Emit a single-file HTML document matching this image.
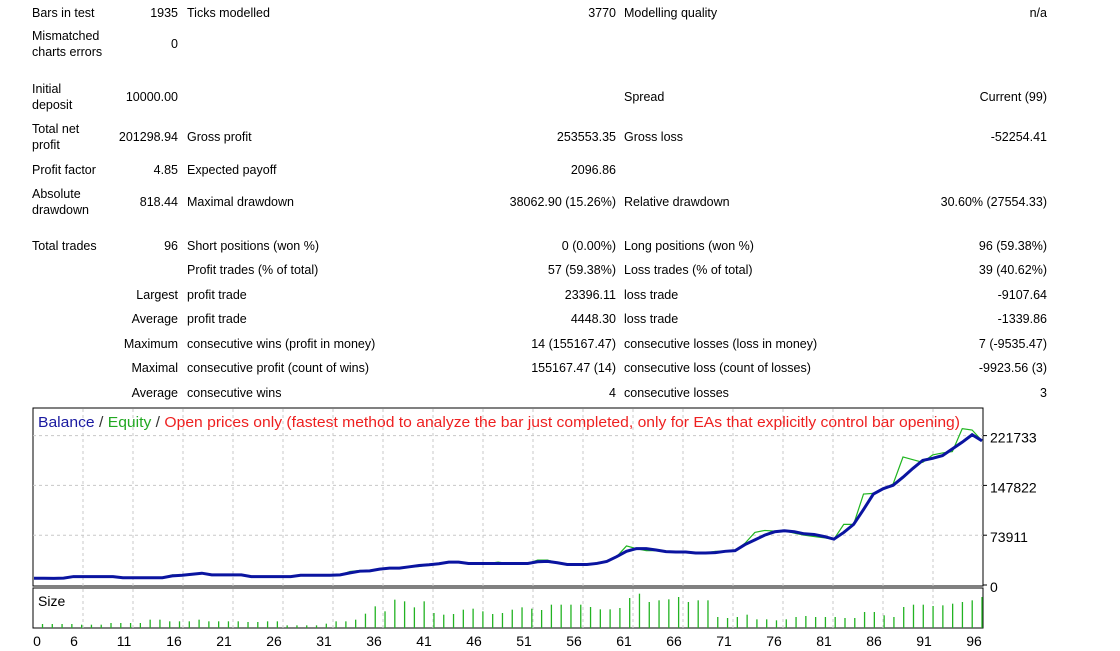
<!DOCTYPE html>
<html><head><meta charset="utf-8">
<style>
body{margin:0;width:1120px;height:651px;background:#fff;font-family:"Liberation Sans","DejaVu Sans",sans-serif;font-size:12.5px;color:#000;position:relative;overflow:hidden}
.t{position:absolute;line-height:16px;white-space:nowrap}
.r{text-align:right}
</style></head><body>
<div>
<div class="t" style="left:32px;top:5px">Bars in test</div>
<div class="t r" style="right:942px;top:5px">1935</div>
<div class="t" style="left:187px;top:5px">Ticks modelled</div>
<div class="t r" style="right:504px;top:5px">3770</div>
<div class="t" style="left:624px;top:5px">Modelling quality</div>
<div class="t r" style="right:73px;top:5px">n/a</div>

<div class="t" style="left:32px;top:28px">Mismatched<br>charts errors</div>
<div class="t r" style="right:942px;top:36px">0</div>

<div class="t" style="left:32px;top:81px">Initial<br>deposit</div>
<div class="t r" style="right:942px;top:89px">10000.00</div>
<div class="t" style="left:624px;top:89px">Spread</div>
<div class="t r" style="right:73px;top:89px">Current (99)</div>

<div class="t" style="left:32px;top:121px">Total net<br>profit</div>
<div class="t r" style="right:942px;top:129px">201298.94</div>
<div class="t" style="left:187px;top:129px">Gross profit</div>
<div class="t r" style="right:504px;top:129px">253553.35</div>
<div class="t" style="left:624px;top:129px">Gross loss</div>
<div class="t r" style="right:73px;top:129px">-52254.41</div>

<div class="t" style="left:32px;top:162px">Profit factor</div>
<div class="t r" style="right:942px;top:162px">4.85</div>
<div class="t" style="left:187px;top:162px">Expected payoff</div>
<div class="t r" style="right:504px;top:162px">2096.86</div>

<div class="t" style="left:32px;top:186px">Absolute<br>drawdown</div>
<div class="t r" style="right:942px;top:194px">818.44</div>
<div class="t" style="left:187px;top:194px">Maximal drawdown</div>
<div class="t r" style="right:504px;top:194px">38062.90 (15.26%)</div>
<div class="t" style="left:624px;top:194px">Relative drawdown</div>
<div class="t r" style="right:73px;top:194px">30.60% (27554.33)</div>

<div class="t" style="left:32px;top:238px">Total trades</div>
<div class="t r" style="right:942px;top:238px">96</div>
<div class="t" style="left:187px;top:238px">Short positions (won %)</div>
<div class="t r" style="right:504px;top:238px">0 (0.00%)</div>
<div class="t" style="left:624px;top:238px">Long positions (won %)</div>
<div class="t r" style="right:73px;top:238px">96 (59.38%)</div>

<div class="t" style="left:187px;top:262px">Profit trades (% of total)</div>
<div class="t r" style="right:504px;top:262px">57 (59.38%)</div>
<div class="t" style="left:624px;top:262px">Loss trades (% of total)</div>
<div class="t r" style="right:73px;top:262px">39 (40.62%)</div>

<div class="t r" style="right:942px;top:287px">Largest</div>
<div class="t" style="left:187px;top:287px">profit trade</div>
<div class="t r" style="right:504px;top:287px">23396.11</div>
<div class="t" style="left:624px;top:287px">loss trade</div>
<div class="t r" style="right:73px;top:287px">-9107.64</div>

<div class="t r" style="right:942px;top:311px">Average</div>
<div class="t" style="left:187px;top:311px">profit trade</div>
<div class="t r" style="right:504px;top:311px">4448.30</div>
<div class="t" style="left:624px;top:311px">loss trade</div>
<div class="t r" style="right:73px;top:311px">-1339.86</div>

<div class="t r" style="right:942px;top:336px">Maximum</div>
<div class="t" style="left:187px;top:336px">consecutive wins (profit in money)</div>
<div class="t r" style="right:504px;top:336px">14 (155167.47)</div>
<div class="t" style="left:624px;top:336px">consecutive losses (loss in money)</div>
<div class="t r" style="right:73px;top:336px">7 (-9535.47)</div>

<div class="t r" style="right:942px;top:360px">Maximal</div>
<div class="t" style="left:187px;top:360px">consecutive profit (count of wins)</div>
<div class="t r" style="right:504px;top:360px">155167.47 (14)</div>
<div class="t" style="left:624px;top:360px">consecutive loss (count of losses)</div>
<div class="t r" style="right:73px;top:360px">-9923.56 (3)</div>

<div class="t r" style="right:942px;top:385px">Average</div>
<div class="t" style="left:187px;top:385px">consecutive wins</div>
<div class="t r" style="right:504px;top:385px">4</div>
<div class="t" style="left:624px;top:385px">consecutive losses</div>
<div class="t r" style="right:73px;top:385px">3</div>
</div>

<svg id="chart" width="1120" height="651" style="position:absolute;left:0;top:0"></svg>

<script>
const balance=[10000,10000,9800,10200,12500,12500,12500,12500,12500,10800,10800,10800,10800,10800,13500,14500,16000,17500,15000,15000,15000,15000,12500,12500,12500,12500,12500,14500,14500,14500,14500,15000,18000,20500,21000,23500,25000,25000,27000,29000,30000,31500,34000,34000,32000,32000,32000,32000,32000,32000,32000,34500,35000,33000,30500,30500,30500,32000,35000,42000,50000,54000,54000,52000,49500,49000,49000,47500,47500,48000,50000,51000,60000,67000,74000,79000,80500,79000,76000,75000,72000,68000,78000,90000,112000,135000,143000,148000,160000,173000,185000,188000,192000,202000,212000,223000,214000];
const equity=[10000,10000,9000,10200,12500,12500,12500,12500,12500,10800,10800,10800,10800,10800,15000,14500,16000,17500,15000,15000,15000,15000,12000,12500,12500,12500,12500,14500,14500,14500,14500,15000,20000,21500,21000,23500,25000,25000,27000,27500,30000,31500,34000,34000,33000,32000,32000,34000,32000,32000,32000,37000,37000,33000,29500,29500,30500,33000,35000,42000,58000,54000,51000,51000,49500,49000,48000,47500,47500,50000,50000,51000,62000,78000,81000,80000,80500,77000,74000,72000,70000,68000,90000,90000,135000,136000,143000,150000,190000,186000,182000,193000,196000,198000,232000,230000,214000];
const sizes=[12,12,12,12,10,10,10,15,15,15,15,25,25,20,20,20,25,20,20,20,20,18,18,20,20,8,8,8,8,13,20,20,25,43,65,50,85,80,62,80,45,40,42,55,58,50,42,45,55,62,58,54,70,70,70,70,63,56,56,60,90,103,78,83,86,93,78,83,83,33,30,33,40,26,26,23,26,33,36,33,33,33,30,30,48,48,38,33,63,70,70,66,68,73,78,83,93];
const yTicks=[0,73911,147822,221733];
const xTickLabels=["0","6","11","16","21","26","31","36","41","46","51","56","61","66","71","76","81","86","91","96"];

const svg=document.getElementById('chart');
const NS='http://www.w3.org/2000/svg';
function mk(tag,attrs){const e=document.createElementNS(NS,tag);for(const k in attrs)e.setAttribute(k,attrs[k]);svg.appendChild(e);return e;}
const L=33,R=983,T=408,B=586,ST=588,SB=628;
const x=i=>42.5+i*(982-42.5)/(balance.length-1);
const xl=i=>34+i*(982-34)/(balance.length-1);
const y=v=>585-v*49.8/73911;
const ys=v=>SB-v/3;

let e;
e=mk('rect',{x:L,y:T,width:R-L,height:B-T,fill:'#fff',stroke:'#000','stroke-width':1});


e=mk('rect',{x:L,y:ST,width:R-L,height:SB-ST,fill:'#fff',stroke:'#000','stroke-width':1});


for(let k=0;k<18;k++){
  const gx=83+50*k;
  e=mk('line',{x1:gx,x2:gx,y1:T+1,y2:B,stroke:'#c8c8c8','stroke-dasharray':'3,3'});
  
  
  e=mk('line',{x1:gx,x2:gx,y1:ST+1,y2:SB,stroke:'#c8c8c8','stroke-dasharray':'3,3'});
  
  
}
yTicks.forEach(v=>{
  if(v>0){e=mk('line',{x1:L,x2:R,y1:y(v),y2:y(v),stroke:'#c8c8c8','stroke-dasharray':'3,3'});
  
  }
  e=mk('line',{x1:R,x2:R+4,y1:y(v),y2:y(v),stroke:'#000'});
  
  
  e=mk('text',{x:990,y:y(v)+7,'font-size':14,fill:'#000'});
  e.textContent=String(v);
  
  
});
xTickLabels.forEach((s,k)=>{
  const cx=k===0?37:74+50*(k-1);
  e=mk('text',{x:cx,y:646,'font-size':14,'text-anchor':'middle',fill:'#000'});
  e.textContent=s;
  
  
});
sizes.forEach((v,i)=>{
  e=mk('line',{x1:x(i),x2:x(i),y1:SB,y2:ys(v),stroke:'#22b322','stroke-width':1.3});
  
  
});
e=mk('polyline',{points:equity.map((v,i)=>xl(i)+','+y(v)).join(' '),fill:'none',stroke:'#1fb51f','stroke-width':1.2});


e=mk('polyline',{points:balance.map((v,i)=>xl(i)+','+y(v)).join(' '),fill:'none',stroke:'#0a14a0','stroke-width':3});


e=mk('text',{x:38,y:427,'font-size':15,textLength:922,lengthAdjust:'spacingAndGlyphs'});
e.innerHTML='<tspan fill="#1a1aa0">Balance</tspan><tspan fill="#333"> / </tspan><tspan fill="#22a822">Equity</tspan><tspan fill="#333"> / </tspan><tspan fill="#ee2020">Open prices only (fastest method to analyze the bar just completed, only for EAs that explicitly control bar opening)</tspan>';


e=mk('text',{x:38,y:606,'font-size':14,fill:'#000'});
e.textContent='Size';


</script>
</body></html>
